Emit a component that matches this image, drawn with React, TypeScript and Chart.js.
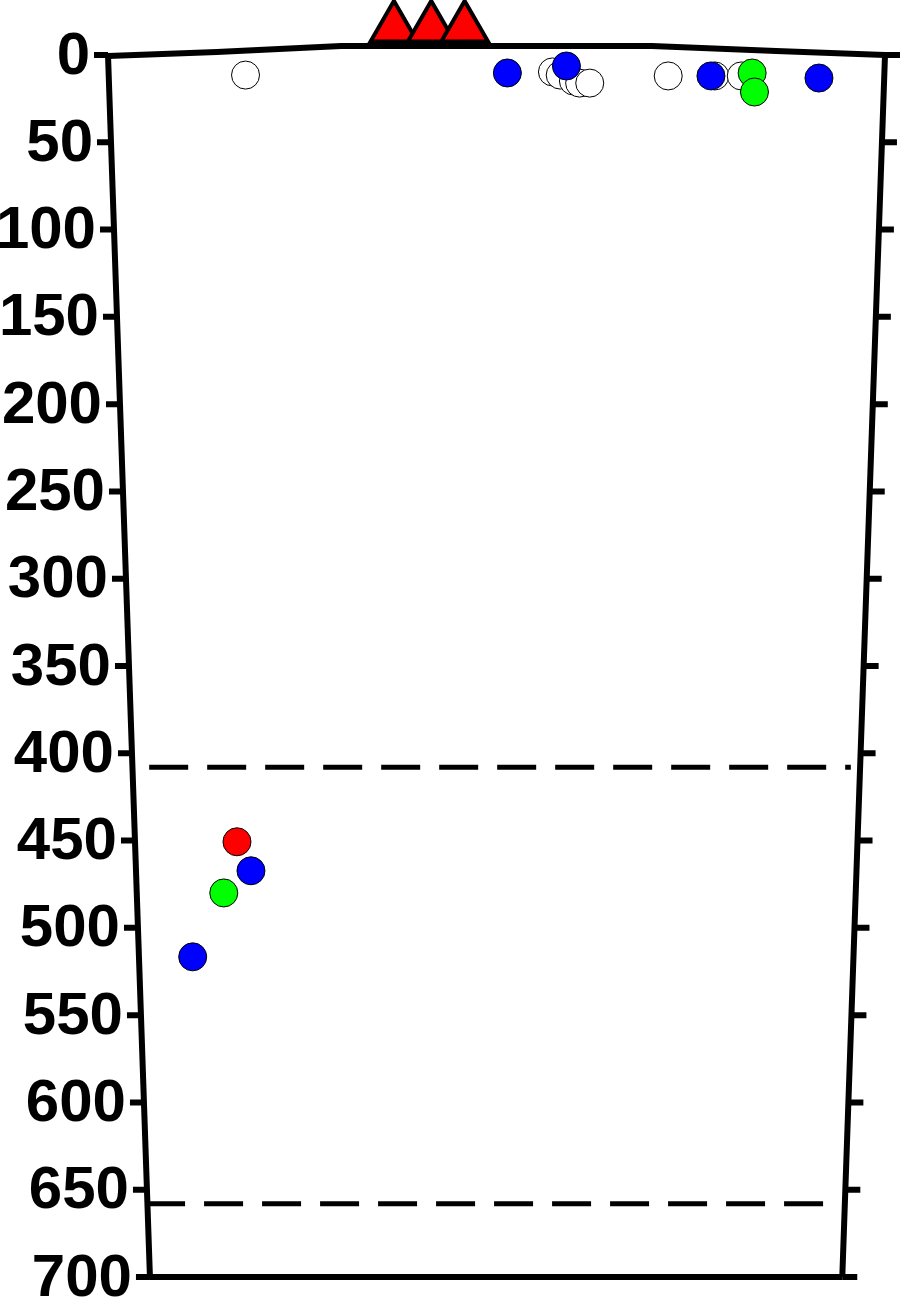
import React, { useEffect, useRef } from "react";
import { Chart, registerables } from "chart.js";
Chart.register(...registerables);

// ---- data ----
const depthTicks = [0, 50, 100, 150, 200, 250, 300, 350, 400, 450, 500, 550, 600, 650, 700];

const openX = [17.7, 57.2, 58.2, 59.9, 60.7, 62.0, 72.1, 78.1, 81.5];
const openDepth = [11.5, 9.7, 11.5, 14.9, 16.1, 16.1, 12.0, 12.0, 12.0];
const blueX = [51.4, 59.0, 77.6, 91.5, 18.4, 10.9];
const blueDepth = [10.3, 6.3, 12.0, 13.2, 467.3, 516.6];
const greenX = [82.9, 83.2, 14.9];
const greenDepth = [10.3, 21.2, 480.0];
const redX = [16.6];
const redDepth = [450.7];
const triangleX = [36.8, 41.6, 45.9];
const triangleDepth = [-15.5, -15.5, -15.5];
const boundaryDepth = [408, 658];
const boundaryStartX = [5.3, 4.9];
const boundaryEndX = [95.6, 94.7];

// ---- style ----
const frameStyle = {
  bottomLeftX: 5.4,
  bottomRightX: 94.5,
  lineWidth: 6,
  tickLen: 14,
  labelGap: 18,
  font: "bold 60px 'Liberation Sans', Arial, sans-serif",
  topWave: [
    [0, 1],
    [0.14, -3],
    [0.3, -9],
    [0.7, -9],
    [0.86, -4],
    [1, 0],
  ] as [number, number][],
};

const zip = (xs: number[], ys: number[]) => xs.map((x, i) => ({ x, y: ys[i] }));

const framePlugin = {
  id: "frame",
  beforeDatasetsDraw(chart: any) {
    const { ctx } = chart;
    const xs = chart.scales.x;
    const ys = chart.scales.y;
    const yTop = ys.getPixelForValue(0);
    const yBot = ys.getPixelForValue(700);
    const lx0 = xs.getPixelForValue(0);
    const lx1 = xs.getPixelForValue(frameStyle.bottomLeftX);
    const rx0 = xs.getPixelForValue(100);
    const rx1 = xs.getPixelForValue(frameStyle.bottomRightX);
    const t = (py: number) => (py - yTop) / (yBot - yTop);
    const leftX = (py: number) => lx0 + (lx1 - lx0) * t(py);
    const rightX = (py: number) => rx0 + (rx1 - rx0) * t(py);

    ctx.save();
    ctx.strokeStyle = "#000";
    ctx.lineWidth = frameStyle.lineWidth;
    ctx.lineCap = "butt";
    ctx.lineJoin = "round";

    // top wavy line
    ctx.beginPath();
    frameStyle.topWave.forEach(([f, dy], i) => {
      const px = lx0 + (rx0 - lx0) * f;
      const py = yTop + dy;
      if (i === 0) ctx.moveTo(px, py);
      else ctx.lineTo(px, py);
    });
    ctx.stroke();

    // left and right axes, bottom line
    ctx.beginPath();
    ctx.moveTo(lx0, yTop);
    ctx.lineTo(lx1, yBot);
    ctx.moveTo(rx0, yTop);
    ctx.lineTo(rx1, yBot);
    ctx.moveTo(lx1, yBot);
    ctx.lineTo(rx1, yBot);
    ctx.stroke();

    // ticks
    ctx.beginPath();
    depthTicks.forEach((d) => {
      const py = ys.getPixelForValue(d);
      const l = leftX(py);
      const r = rightX(py);
      ctx.moveTo(l - frameStyle.tickLen, py);
      ctx.lineTo(l, py);
      ctx.moveTo(r, py);
      ctx.lineTo(r + frameStyle.tickLen + 1, py);
    });
    ctx.stroke();

    // labels
    ctx.fillStyle = "#000";
    ctx.font = frameStyle.font;
    ctx.textAlign = "right";
    ctx.textBaseline = "middle";
    depthTicks.forEach((d) => {
      const py = ys.getPixelForValue(d);
      ctx.fillText(String(d), leftX(py) - frameStyle.labelGap, py + 2);
    });
    ctx.restore();
  },
};

const circle = (label: string, data: any[], color: string, order: number) => ({
  type: "scatter" as const,
  label,
  data,
  order,
  clip: false as const,
  pointStyle: "circle",
  pointRadius: 14,
  pointHoverRadius: 14,
  pointBackgroundColor: color,
  pointBorderColor: "#000",
  pointBorderWidth: 1,
  showLine: false,
});

export default function App() {
  const ref = useRef<HTMLCanvasElement | null>(null);

  useEffect(() => {
    if (!ref.current) return;
    const boundaries = boundaryDepth.map((d, i) => ({
      type: "scatter" as const,
      label: "boundary " + (i + 1),
      data: [
        { x: boundaryStartX[i], y: d },
        { x: boundaryEndX[i], y: d },
      ],
      order: 5,
      clip: false as const,
      showLine: true,
      borderColor: "#000",
      borderWidth: 5,
      borderDash: [39, 19],
      pointRadius: 0,
      pointHoverRadius: 0,
      fill: false,
    }));

    const chart = new Chart(ref.current, {
      type: "scatter",
      data: {
        datasets: [
          ...boundaries,
          circle("open", zip(openX, openDepth), "#ffffff", 4),
          circle("blue", zip(blueX, blueDepth), "#0000ff", 3),
          circle("green", zip(greenX, greenDepth), "#00ff00", 2),
          circle("red", zip(redX, redDepth), "#ff0000", 2),
          {
            type: "scatter" as const,
            label: "triangles",
            data: zip(triangleX, triangleDepth),
            order: 1,
            clip: false as const,
            pointStyle: "triangle",
            pointRadius: 27,
            pointHoverRadius: 27,
            pointBackgroundColor: "#ff0000",
            pointBorderColor: "#000",
            pointBorderWidth: 4,
            showLine: false,
          },
        ] as any,
      },
      options: {
        animation: false,
        responsive: false,
        maintainAspectRatio: false,
        devicePixelRatio: 1,
        layout: { autoPadding: false, padding: { left: 108, right: 15, top: 55, bottom: 23 } },
        scales: {
          x: { type: "linear", min: 0, max: 100, display: false },
          y: { type: "linear", min: 0, max: 700, reverse: true, display: false },
        },
        plugins: {
          legend: { display: false },
          tooltip: { enabled: false },
        },
        events: [],
      },
      plugins: [framePlugin],
    });
    return () => chart.destroy();
  }, []);

  return (
    <div style={{ position: "absolute", left: 0, top: 0, width: 900, height: 1300, background: "#fff" }}>
      <canvas ref={ref} width={900} height={1300} style={{ width: 900, height: 1300, display: "block" }} />
    </div>
  );
}
